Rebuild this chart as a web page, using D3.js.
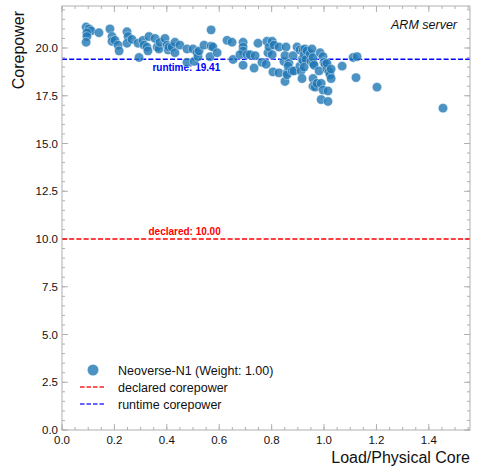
<!DOCTYPE html>
<html><head><meta charset="utf-8">
<script src="https://cdn.jsdelivr.net/npm/d3@7"></script>
<style>body{margin:0;background:#fff;} svg{display:block;font-family:"Liberation Sans",Arial,Helvetica,sans-serif;}</style>
</head><body>
<svg id="c" width="477" height="469"></svg>
<script>
const loadX = [0.092,0.103,0.111,0.095,0.095,0.092,0.141,0.183,0.191,0.191,0.202,0.214,0.218,0.248,0.252,0.248,0.267,0.290,0.294,0.309,0.313,0.324,0.328,0.332,0.355,0.363,0.370,0.374,0.393,0.401,0.405,0.408,0.420,0.431,0.431,0.450,0.477,0.477,0.500,0.504,0.515,0.519,0.523,0.542,0.569,0.569,0.565,0.576,0.592,0.630,0.649,0.653,0.691,0.691,0.691,0.679,0.691,0.706,0.718,0.733,0.737,0.748,0.763,0.782,0.786,0.779,0.790,0.802,0.809,0.802,0.805,0.828,0.828,0.847,0.855,0.851,0.859,0.851,0.859,0.866,0.863,0.878,0.885,0.882,0.897,0.908,0.908,0.912,0.916,0.916,0.920,0.920,0.924,0.927,0.931,0.924,0.935,0.947,0.950,0.954,0.958,0.958,0.958,0.958,0.966,0.973,0.962,0.981,0.985,0.989,0.989,0.996,0.996,1.000,1.004,1.011,1.011,1.015,1.015,1.019,1.023,1.027,1.027,1.069,1.111,1.126,1.122,1.202,1.454];
const corepower = [21.10,21.00,20.90,20.80,20.60,20.30,20.80,21.00,20.60,20.35,20.40,20.15,19.85,20.85,20.60,20.25,20.45,20.25,19.50,20.40,20.15,20.05,19.85,20.60,20.50,20.05,19.95,20.30,20.50,20.15,19.90,20.05,20.05,19.75,20.30,20.15,19.95,19.25,19.95,19.30,19.75,19.55,19.85,20.15,20.95,20.10,19.55,20.05,19.75,20.40,20.30,19.40,20.30,20.05,19.85,19.65,19.10,19.65,19.65,18.95,19.60,20.25,19.25,20.35,19.75,19.15,20.05,20.35,20.15,19.65,18.75,18.70,20.05,19.30,20.05,19.60,18.70,18.25,18.60,19.20,19.05,18.80,18.80,19.60,20.05,19.90,19.05,18.80,18.40,19.40,19.90,19.35,19.65,19.95,19.40,19.00,19.85,19.70,19.30,19.95,18.40,19.20,19.50,18.00,17.95,18.15,19.10,18.80,19.75,18.15,17.30,19.55,17.80,19.25,19.15,18.90,19.20,17.75,17.20,18.75,18.60,18.40,18.90,19.05,19.50,19.55,18.45,17.95,16.85];
const declared = 10.00, runtime = 19.41;
const xTicks = [0.0,0.2,0.4,0.6,0.8,1.0,1.2,1.4];
const yTicks = [0.0,2.5,5.0,7.5,10.0,12.5,15.0,17.5,20.0];
const seriesName = "Neoverse-N1 (Weight: 1.00)";

const svg = d3.select("#c");
const L=62,R=470,T=6,B=430;
const x = d3.scaleLinear().domain([0,1.557]).range([L,R]);
const y = d3.scaleLinear().domain([0,(B-T)/19.1]).range([B,T]);
const frame="#b0b0b0";

const xMinor = d3.range(0,1.56,0.05), yMinor = d3.range(0,22.3,0.5);
const g = svg.append("g");
function vt(v, len){ 
  g.append("line").attr("x1",x(v)).attr("x2",x(v)).attr("y1",B).attr("y2",B-len).attr("stroke",frame);
  g.append("line").attr("x1",x(v)).attr("x2",x(v)).attr("y1",T).attr("y2",T+len).attr("stroke",frame);
}
function ht(v,len){
  g.append("line").attr("y1",y(v)).attr("y2",y(v)).attr("x1",L).attr("x2",L+len).attr("stroke",frame);
  g.append("line").attr("y1",y(v)).attr("y2",y(v)).attr("x1",R).attr("x2",R-len).attr("stroke",frame);
}
xMinor.forEach(v=>vt(v,3)); yMinor.forEach(v=>ht(v,3));
xTicks.forEach(v=>vt(v,6)); yTicks.forEach(v=>ht(v,6));

svg.append("g").selectAll("text").data(xTicks).join("text")
  .attr("x",d=>x(d)).attr("y",B+14).attr("text-anchor","middle").attr("font-size",11.5).attr("fill","#111")
  .text(d=>d.toFixed(1));
svg.append("g").selectAll("text").data(yTicks).join("text")
  .attr("x",L-4).attr("y",d=>y(d)+4).attr("text-anchor","end").attr("font-size",11.5).attr("fill","#111")
  .text(d=>d.toFixed(1));

svg.append("line").attr("x1",L).attr("x2",R).attr("y1",y(declared)).attr("y2",y(declared))
  .attr("stroke","#ff0000").attr("stroke-width",1.5).attr("stroke-dasharray","5,2.2");
svg.append("line").attr("x1",L).attr("x2",R).attr("y1",y(runtime)).attr("y2",y(runtime))
  .attr("stroke","#0000ff").attr("stroke-width",1.5).attr("stroke-dasharray","5,2.2");
svg.append("text").attr("x",x(0.33)).attr("y",y(declared)-4).attr("font-size",10).attr("font-weight","bold")
  .attr("fill","#ff0000").text("declared: "+declared.toFixed(2));
svg.append("text").attr("x",x(0.345)).attr("y",y(runtime)+12).attr("font-size",10).attr("font-weight","bold")
  .attr("fill","#0000ff").text("runtime: "+runtime.toFixed(2));

svg.append("g").selectAll("circle").data(loadX.map((d,i)=>[d,corepower[i]])).join("circle")
  .attr("cx",d=>x(d[0])).attr("cy",d=>y(d[1])).attr("r",4.7)
  .attr("fill","#1f77b4").attr("fill-opacity",0.8).attr("stroke","#fff").attr("stroke-width",0.5).attr("stroke-opacity",0.8);

svg.append("rect").attr("x",L).attr("y",T).attr("width",R-L).attr("height",B-T).attr("fill","none").attr("stroke",frame);

svg.append("text").attr("x",R).attr("y",463).attr("text-anchor","end").attr("font-size",16).attr("fill","#111").text("Load/Physical Core");
svg.append("text").attr("transform",`translate(24,11) rotate(-90)`).attr("text-anchor","end").attr("font-size",16).attr("fill","#111").text("Corepower");
svg.append("text").attr("x",457).attr("y",29).attr("text-anchor","end").attr("font-size",12.5).attr("font-style","italic").attr("fill","#111").text("ARM server");

const lg = svg.append("g");
lg.append("circle").attr("cx",93).attr("cy",370).attr("r",5.5).attr("fill","#1f77b4").attr("fill-opacity",0.8);
lg.append("text").attr("x",118).attr("y",374.5).attr("font-size",12.5).attr("fill","#111").text(seriesName);
lg.append("line").attr("x1",80).attr("x2",106).attr("y1",387).attr("y2",387).attr("stroke","#ff2020").attr("stroke-width",1.3).attr("stroke-dasharray","4.5,2");
lg.append("text").attr("x",118).attr("y",391.5).attr("font-size",12.5).attr("fill","#111").text("declared corepower");
lg.append("line").attr("x1",80).attr("x2",106).attr("y1",404).attr("y2",404).attr("stroke","#3030ff").attr("stroke-width",1.3).attr("stroke-dasharray","4.5,2");
lg.append("text").attr("x",118).attr("y",408.5).attr("font-size",12.5).attr("fill","#111").text("runtime corepower");
</script>
</body></html>
